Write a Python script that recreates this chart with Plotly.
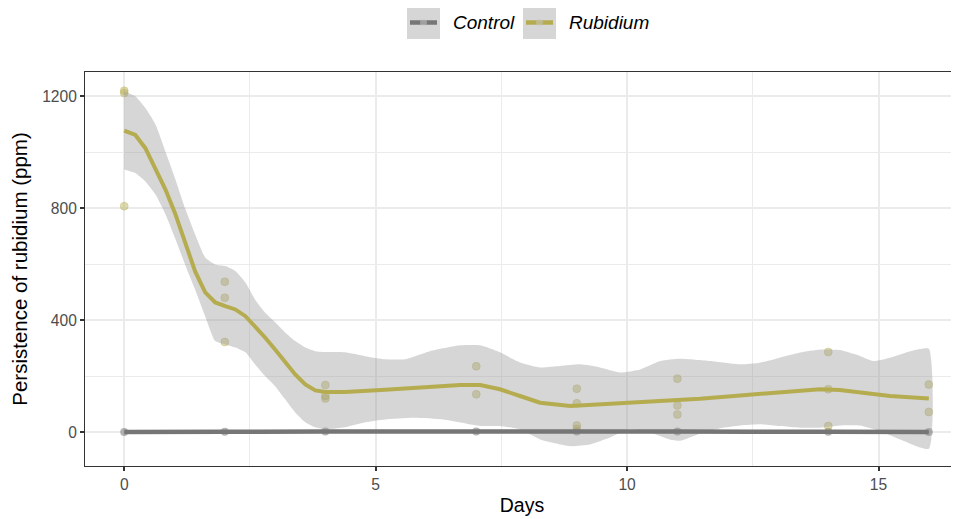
import plotly.graph_objects as go

# ---------------- data ----------------
rb_days = [0, 0, 0, 2, 2, 2, 4, 4, 4, 7, 7, 9, 9, 9, 9, 11, 11, 11, 14, 14, 14, 16, 16]
rb_vals = [1220, 1212, 808, 538, 481, 323, 169, 130, 121, 236, 136, 156, 104, 25, 12,
           192, 96, 64, 287, 154, 23, 171, 73]

ct_days = [0, 2, 4, 7, 9, 11, 14, 16]
ct_vals = [1, 2, 3, 3, 3, 3, 2, 1]

rb_fit_days = [0, 0.22, 0.42, 0.62, 0.82, 1.01, 1.21, 1.41, 1.61, 1.81, 2.01, 2.21, 2.41,
               2.60, 2.80, 3.00, 3.20, 3.40, 3.60, 3.80, 4.00, 4.39, 5.19, 6.08, 6.68,
               7.08, 7.47, 7.87, 8.27, 8.87, 9.46, 10.06, 10.66, 11.05, 11.45, 12.25,
               13.04, 13.84, 14.23, 14.63, 15.23, 16.0]
rb_fit_vals = [1078, 1062, 1015, 944, 867, 783, 680, 575, 500, 464, 451, 439, 415,
               380, 339, 296, 250, 207, 171, 150, 144, 144, 152, 162, 169,
               169, 154, 130, 106, 94, 100, 108, 115, 118, 120, 132,
               144, 154, 151, 144, 130, 121]

rb_hi_days = [0, 0.22, 0.42, 0.62, 0.82, 1.01, 1.21, 1.41, 1.61, 1.81, 2.01, 2.21, 2.41,
              2.60, 2.80, 3.00, 3.20, 3.40, 3.60, 3.80, 4.00, 4.39, 4.79, 5.19, 5.58,
              6.08, 6.68, 7.08, 7.47, 7.87, 8.27, 8.67, 9.07, 9.46, 9.86, 10.26, 10.66,
              11.05, 11.65, 12.25, 12.64, 13.04, 13.44, 13.84, 14.23, 14.63, 14.89,
              15.23, 15.63, 16.0]
rb_hi_vals = [1218, 1200, 1158, 1100, 1003, 908, 801, 707, 625, 600, 594, 576, 535,
              475, 428, 393, 357, 326, 303, 290, 287, 286, 272, 261, 261,
              290, 311, 311, 286, 250, 232, 237, 243, 232, 214, 225, 255,
              263, 255, 243, 249, 267, 285, 296, 294, 273, 255,
              267, 290, 299]

rb_lo_days = [0, 0.22, 0.42, 0.62, 0.82, 1.01, 1.21, 1.41, 1.61, 1.81, 2.01, 2.21, 2.41,
              2.60, 2.80, 3.00, 3.20, 3.40, 3.60, 3.80, 4.00, 4.39, 4.79, 5.19, 5.77,
              6.35, 7.08, 7.47, 7.87, 8.27, 8.87, 9.26, 9.66, 10.06, 10.46, 10.85,
              11.05, 11.45, 11.85, 12.25, 12.64, 13.04, 13.44, 13.84, 14.23, 14.63,
              15.03, 15.43, 16.0]
rb_lo_vals = [939, 926, 896, 850, 779, 694, 600, 510, 415, 326, 314, 303, 286,
              243, 201, 165, 118, 71, 36, 18, 11, 18, 36, 46, 52,
              46, 23, 23, 11, -25, -49, -43, -18, 11, 0, -25,
              -30, -5, 15, 25, 29, 23, 17, 17, 25, 25,
              5, -25, -58]

x_ticks = [0, 5, 10, 15]
y_ticks = [0, 400, 800, 1200]
series_names = ["Control", "Rubidium"]

# ---------------- styles ----------------
FONT = "Liberation Sans, Arial, Helvetica, sans-serif"
RB = "#b5ac50"
CT = "#767676"
BAND = "rgba(153,153,153,0.4)"
GRID = "#ebebeb"
AX = "#333333"

OFF = 8  # default page body margin
W, H = 959 - OFF, 519 - OFF
ML, MR, MT, MB = 85 - OFF, 0, 72 - OFF, 53
PW, PH = W - ML - MR, H - MT - MB

fig = go.Figure()

# points
fig.add_trace(go.Scatter(x=ct_days, y=ct_vals, mode="markers",
                         marker=dict(color="rgba(118,118,118,0.55)", size=8),
                         showlegend=False, hoverinfo="skip"))
fig.add_trace(go.Scatter(x=rb_days, y=rb_vals, mode="markers",
                         marker=dict(color="rgba(181,172,80,0.45)", size=8,
                                     line=dict(color="rgba(181,172,80,0.3)", width=1)),
                         showlegend=False, hoverinfo="skip"))

# confidence band (polygon from hi + reversed lo)
band_x = rb_hi_days + rb_lo_days[::-1]
band_y = rb_hi_vals + rb_lo_vals[::-1]
fig.add_trace(go.Scatter(x=band_x, y=band_y, mode="lines", fill="toself",
                         fillcolor=BAND, line=dict(width=0, shape="spline", smoothing=0.5),
                         showlegend=False, hoverinfo="skip"))

# smooth lines
fig.add_trace(go.Scatter(x=rb_fit_days, y=rb_fit_vals, mode="lines",
                         line=dict(color=RB, width=4),
                         name=series_names[1], showlegend=False))
fig.add_trace(go.Scatter(x=ct_days, y=ct_vals, mode="lines",
                         line=dict(color=CT, width=4.5, shape="spline"),
                         name=series_names[0], showlegend=False))

# ---------------- manual legend (ggplot style keys) ----------------
def px2paper_x(px):
    return (px - OFF - ML) / PW

def px2paper_y(py):
    return (H + OFF - MB - py) / PH

shapes = []
annotations = []
legend_items = [(series_names[0], CT, 407), (series_names[1], RB, 523)]
for name, col, kx in legend_items:
    shapes.append(dict(type="rect", xref="paper", yref="paper",
                       x0=px2paper_x(kx), x1=px2paper_x(kx + 33),
                       y0=px2paper_y(39), y1=px2paper_y(6),
                       fillcolor="#d6d6d6", line=dict(width=0), layer="above"))
    shapes.append(dict(type="line", xref="paper", yref="paper",
                       x0=px2paper_x(kx + 3), x1=px2paper_x(kx + 30),
                       y0=px2paper_y(22.5), y1=px2paper_y(22.5),
                       line=dict(color=col, width=4.5), layer="above"))
    shapes.append(dict(type="circle", xref="paper", yref="paper",
                       x0=px2paper_x(kx + 13), x1=px2paper_x(kx + 20),
                       y0=px2paper_y(26), y1=px2paper_y(19),
                       fillcolor="rgba(200,200,200,0.5)", line=dict(width=0), layer="above"))
    annotations.append(dict(text="<i>" + name + "</i>", xref="paper", yref="paper",
                            x=px2paper_x(kx + 44), y=px2paper_y(22.5),
                            xanchor="left", yanchor="middle", showarrow=False,
                            font=dict(family=FONT, size=19, color="#000000")))

fig.update_layout(
    width=W, height=H,
    margin=dict(l=ML, r=MR, t=MT, b=MB),
    paper_bgcolor="white", plot_bgcolor="white",
    showlegend=False,
    shapes=shapes, annotations=annotations,
    font=dict(family=FONT, color="#000000"),
    xaxis=dict(range=[-0.78, 16.6], tickvals=x_ticks, ticktext=[str(v) for v in x_ticks],
               showgrid=True, gridcolor=GRID, gridwidth=2.2,
               minor=dict(dtick=2.5, tick0=0, showgrid=True, gridcolor=GRID, gridwidth=1.2),
               zeroline=False, showline=True, linecolor=AX, linewidth=1.1, mirror=True,
               ticks="outside", ticklen=4, tickwidth=1.5, tickcolor=AX,
               tickfont=dict(family=FONT, size=15.6, color="#4d4d4d"),
               title=dict(text="Days", font=dict(family=FONT, size=19.5, color="#000000"),
                          standoff=6)),
    yaxis=dict(range=[-120, 1287], tickvals=y_ticks, ticktext=[str(v) for v in y_ticks],
               showgrid=True, gridcolor=GRID, gridwidth=2.2,
               minor=dict(dtick=200, tick0=0, showgrid=True, gridcolor=GRID, gridwidth=1.2),
               zeroline=False, showline=True, linecolor=AX, linewidth=1.1, mirror=True,
               ticks="outside", ticklen=4, tickwidth=1.5, tickcolor=AX,
               tickfont=dict(family=FONT, size=15.6, color="#4d4d4d"),
               title=dict(text="Persistence of rubidium (ppm)",
                          font=dict(family=FONT, size=20.5, color="#000000"),
                          standoff=8)),
)

fig.write_html("out.html")
